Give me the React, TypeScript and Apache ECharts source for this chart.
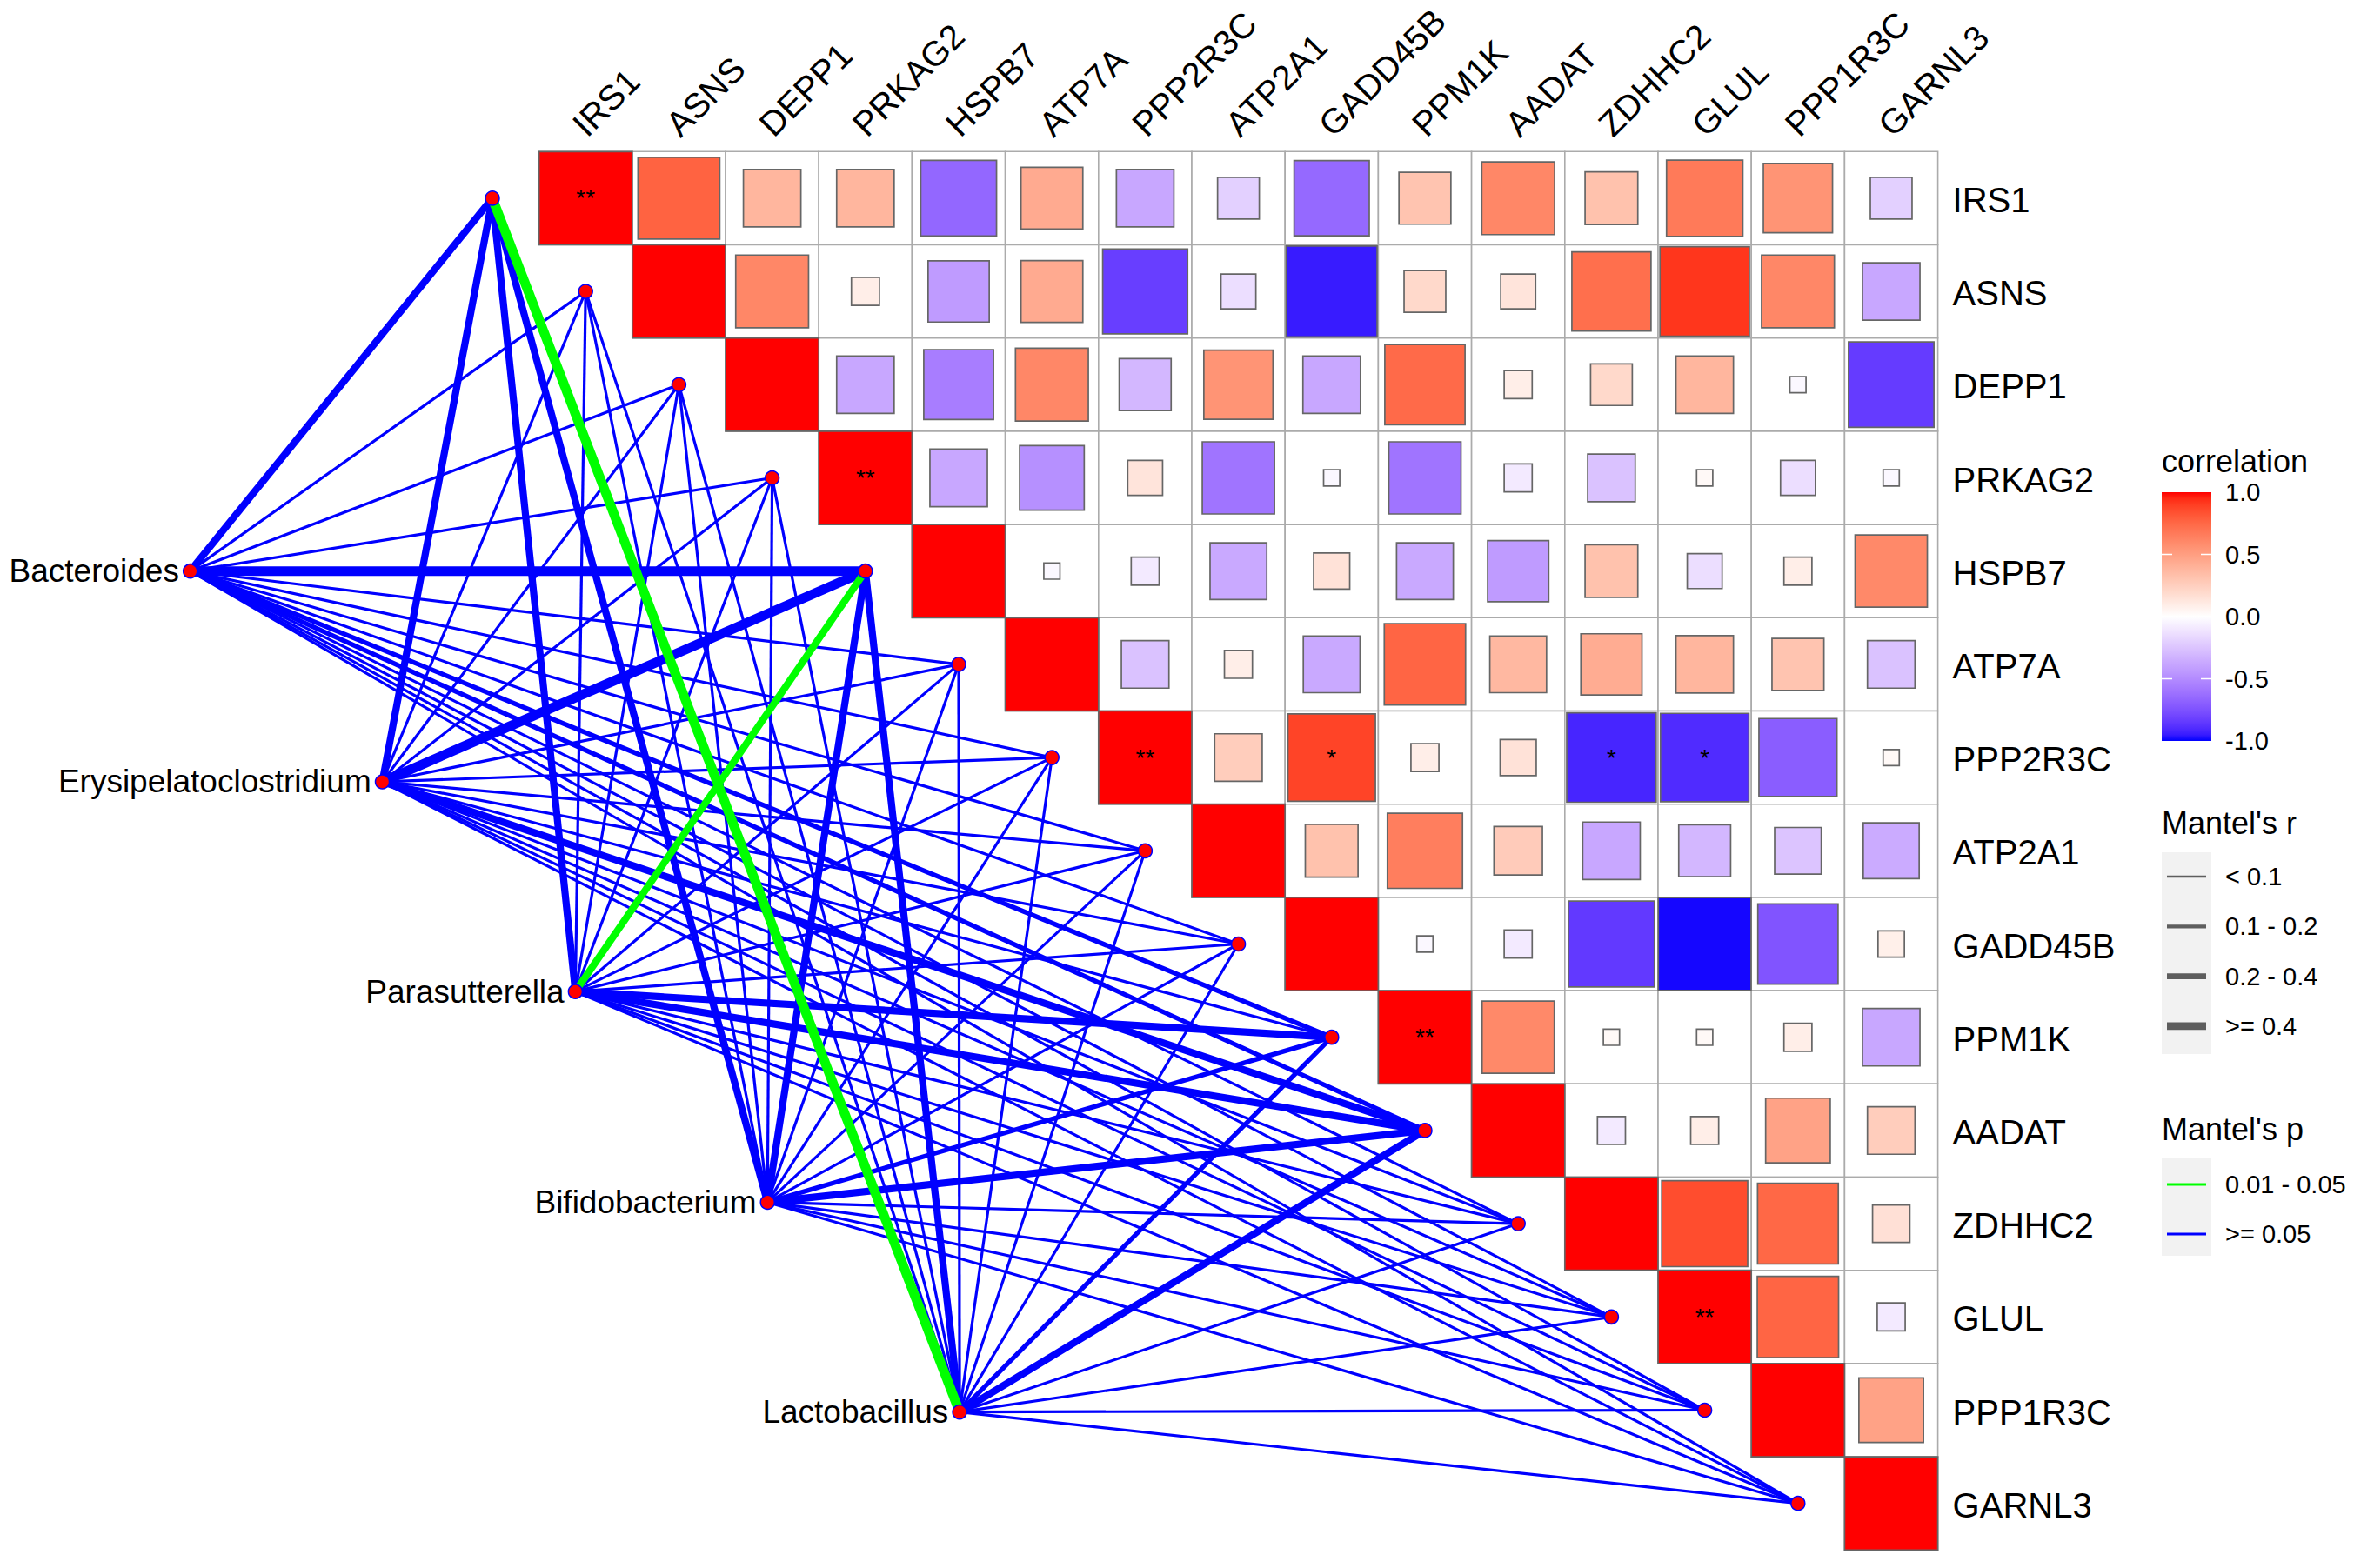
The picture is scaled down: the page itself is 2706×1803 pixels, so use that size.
import React, { useEffect, useRef } from "react";
import * as echarts from "echarts";

// ---------------- DATA ----------------
const genes = ["IRS1", "ASNS", "DEPP1", "PRKAG2", "HSPB7", "ATP7A", "PPP2R3C", "ATP2A1", "GADD45B", "PPM1K", "AADAT", "ZDHHC2", "GLUL", "PPP1R3C", "GARNL3"];

// Upper-triangle correlations: each row holds r with the genes that follow it
const rIRS1 = [0.77, 0.38, 0.38, -0.66, 0.44, -0.38, -0.2, -0.65, 0.31, 0.61, 0.32, 0.67, 0.55, -0.2];
const rASNS = [0.61, 0.09, -0.43, 0.44, -0.83, -0.14, -0.95, 0.2, 0.14, 0.72, 0.92, 0.61, -0.38];
const rDEPP1 = [-0.38, -0.56, 0.61, -0.31, 0.55, -0.38, 0.74, 0.09, 0.2, 0.38, -0.03, -0.84];
const rPRKAG2 = [-0.38, -0.48, 0.14, -0.6, -0.03, -0.6, -0.09, -0.26, 0.03, -0.14, -0.03];
const rHSPB7 = [-0.03, -0.09, -0.37, 0.15, -0.37, -0.43, 0.32, -0.14, 0.09, 0.6];
const rATP7A = [-0.26, 0.09, -0.37, 0.76, 0.37, 0.43, 0.38, 0.31, -0.26];
const rPPP2R3C = [0.26, 0.88, 0.09, 0.15, -0.92, -0.9, -0.7, 0.03];
const rATP2A1 = [0.32, 0.65, 0.27, -0.38, -0.31, -0.25, -0.36];
const rGADD45B = [-0.03, -0.09, -0.85, -0.99, -0.74, 0.08];
const rPPM1K = [0.6, 0.03, 0.03, 0.09, -0.38];
const rAADAT = [-0.09, 0.09, 0.48, 0.26];
const rZDHHC2 = [0.85, 0.75, 0.16];
const rGLUL = [0.76, -0.09];
const rPPP1R3C = [0.48];
const rGARNL3: number[] = [];
const corrRows = [rIRS1, rASNS, rDEPP1, rPRKAG2, rHSPB7, rATP7A, rPPP2R3C, rATP2A1, rGADD45B, rPPM1K, rAADAT, rZDHHC2, rGLUL, rPPP1R3C, rGARNL3];

// significance marks [row gene, column gene, mark]
const sigRows = ["IRS1", "PRKAG2", "PPP2R3C", "PPP2R3C", "PPP2R3C", "PPP2R3C", "PPM1K", "GLUL"];
const sigCols = ["IRS1", "PRKAG2", "PPP2R3C", "GADD45B", "ZDHHC2", "GLUL", "PPM1K", "GLUL"];
const sigMarks = ["**", "**", "**", "*", "*", "*", "**", "**"];

const taxa = ["Bacteroides", "Erysipelatoclostridium", "Parasutterella", "Bifidobacterium", "Lactobacillus"];

// Mantel's r class per gene (gene order as above)
const R1 = "< 0.1", R2 = "0.1 - 0.2", R3 = "0.2 - 0.4", R4 = ">= 0.4";
const mantelRClasses = [R1, R2, R3, R4];
const mantelR_Bacteroides = [R3, R1, R1, R1, R4, R1, R1, R1, R1, R2, R2, R1, R1, R1, R1];
const mantelR_Erysipelatoclostridium = [R3, R1, R1, R1, R4, R1, R1, R1, R1, R1, R3, R1, R1, R1, R1];
const mantelR_Parasutterella = [R3, R1, R1, R1, R3, R1, R1, R1, R1, R3, R3, R1, R1, R1, R1];
const mantelR_Bifidobacterium = [R3, R1, R1, R1, R3, R1, R1, R1, R1, R2, R3, R1, R1, R1, R1];
const mantelR_Lactobacillus = [R4, R1, R1, R1, R3, R1, R1, R1, R1, R2, R3, R1, R1, R1, R1];
const mantelR = [mantelR_Bacteroides, mantelR_Erysipelatoclostridium, mantelR_Parasutterella, mantelR_Bifidobacterium, mantelR_Lactobacillus];

// Mantel's p class per gene
const P1 = "0.01 - 0.05", P2 = ">= 0.05";
const mantelPClasses = [P1, P2];
const mantelP_Bacteroides = [P2, P2, P2, P2, P2, P2, P2, P2, P2, P2, P2, P2, P2, P2, P2];
const mantelP_Erysipelatoclostridium = [P2, P2, P2, P2, P2, P2, P2, P2, P2, P2, P2, P2, P2, P2, P2];
const mantelP_Parasutterella = [P2, P2, P2, P2, P1, P2, P2, P2, P2, P2, P2, P2, P2, P2, P2];
const mantelP_Bifidobacterium = [P2, P2, P2, P2, P2, P2, P2, P2, P2, P2, P2, P2, P2, P2, P2];
const mantelP_Lactobacillus = [P1, P2, P2, P2, P2, P2, P2, P2, P2, P2, P2, P2, P2, P2, P2];
const mantelP = [mantelP_Bacteroides, mantelP_Erysipelatoclostridium, mantelP_Parasutterella, mantelP_Bifidobacterium, mantelP_Lactobacillus];

const colorbarTicks = [1.0, 0.5, 0.0, -0.5, -1.0];

// ---------------- LAYOUT / STYLE ----------------
const CELL_LEFT = 619.6;
const CELL_TOP = 174.3;
const CELL = 107.2;
const X_MIN = -4;
const N = genes.length;
// taxon node layout in cell units (x from heatmap left edge, y from top)
const TAXA_X = [-3.74, -1.68, 0.39, 2.45, 4.51];
const TAXA_Y = [4.5, 6.76, 9.01, 11.27, 13.52];

const FONT = "'Liberation Sans', Arial, Helvetica, sans-serif";
const GENE_FONT = 40;
const R_WIDTH: Record<string, number> = { [R1]: 3.2, [R2]: 5.4, [R3]: 8.2, [R4]: 11 };
const P_COLOR: Record<string, string> = { [P1]: "#00FF00", [P2]: "#0000FF" };

// ---------- Lab colour interpolation (like ggplot's gradient2) ----------
function toLin(c: number) {
  c /= 255;
  return c <= 0.04045 ? c / 12.92 : Math.pow((c + 0.055) / 1.055, 2.4);
}
function fromLin(c: number) {
  const v = c <= 0.0031308 ? 12.92 * c : 1.055 * Math.pow(c, 1 / 2.4) - 0.055;
  return Math.max(0, Math.min(255, Math.round(v * 255)));
}
function rgbToLab(rgb: number[]) {
  const R = toLin(rgb[0]), G = toLin(rgb[1]), B = toLin(rgb[2]);
  const X = (0.4124564 * R + 0.3575761 * G + 0.1804375 * B) / 0.95047;
  const Y = 0.2126729 * R + 0.7151522 * G + 0.072175 * B;
  const Z = (0.0193339 * R + 0.119192 * G + 0.9503041 * B) / 1.08883;
  const f = (t: number) => (t > 0.008856 ? Math.cbrt(t) : 7.787 * t + 16 / 116);
  return [116 * f(Y) - 16, 500 * (f(X) - f(Y)), 200 * (f(Y) - f(Z))];
}
function labToRgb(lab: number[]) {
  const fy = (lab[0] + 16) / 116;
  const fx = fy + lab[1] / 500;
  const fz = fy - lab[2] / 200;
  const inv = (t: number) => (t * t * t > 0.008856 ? t * t * t : (t - 16 / 116) / 7.787);
  const X = inv(fx) * 0.95047, Y = inv(fy), Z = inv(fz) * 1.08883;
  const R = 3.2404542 * X - 1.5371385 * Y - 0.4985314 * Z;
  const G = -0.969266 * X + 1.8760108 * Y + 0.041556 * Z;
  const B = 0.0556434 * X - 0.2040259 * Y + 1.0572252 * Z;
  return [fromLin(R), fromLin(G), fromLin(B)];
}
const LAB_RED = rgbToLab([255, 0, 0]);
const LAB_WHITE = rgbToLab([255, 255, 255]);
const LAB_BLUE = rgbToLab([0, 0, 255]);
function corrColor(r: number) {
  const t = Math.min(1, Math.abs(r));
  const end = r >= 0 ? LAB_RED : LAB_BLUE;
  const lab = [0, 1, 2].map((k) => LAB_WHITE[k] + (end[k] - LAB_WHITE[k]) * t);
  const c = labToRgb(lab);
  return `rgb(${c[0]},${c[1]},${c[2]})`;
}

function buildOption() {
  // heatmap cells [col, row, r]
  const cells: number[][] = [];
  for (let i = 0; i < N; i++) {
    for (let j = i; j < N; j++) {
      const r = i === j ? 1 : corrRows[i][j - i - 1];
      cells.push([j, i, r]);
    }
  }
  const stars = sigMarks.map((m, k) => [genes.indexOf(sigCols[k]), genes.indexOf(sigRows[k])]);

  // links
  type L = { t: number; g: number; r: string; p: string };
  const links: L[] = [];
  taxa.forEach((_, t) => genes.forEach((__, g) => links.push({ t, g, r: mantelR[t][g], p: mantelP[t][g] })));
  links.sort((a, b) => (a.p === P1 ? 1 : 0) - (b.p === P1 ? 1 : 0));
  const linkData = links.map((l) => [TAXA_X[l.t], TAXA_Y[l.t], l.g - 0.5, l.g + 0.5]);

  const geneNodes = genes.map((_, g) => [g - 0.5, g + 0.5]);
  const taxaNodes = taxa.map((name, t) => ({ name, value: [TAXA_X[t], TAXA_Y[t]] }));

  // legend graphics
  const LX = 2485;
  const barTop = 566, barH = 286, barW = 57;
  const stops = [] as { offset: number; color: string }[];
  for (let k = 0; k <= 40; k++) stops.push({ offset: k / 40, color: corrColor(1 - k / 20) });
  const graphic: any[] = [
    { type: "text", x: LX, y: 530, style: { text: "correlation", fontSize: 36, fontFamily: FONT, fill: "#000", verticalAlign: "middle" } },
    {
      type: "rect",
      shape: { x: LX, y: barTop, width: barW, height: barH },
      style: { fill: { type: "linear", x: 0, y: 0, x2: 0, y2: 1, colorStops: stops } },
    },
  ];
  colorbarTicks.forEach((v) => {
    const y = barTop + ((1 - v) / 2) * barH;
    graphic.push({ type: "text", x: LX + 73, y, style: { text: v.toFixed(1), fontSize: 29, fontFamily: FONT, fill: "#000", verticalAlign: "middle" } });
    if (Math.abs(v) < 1) {
      graphic.push({ type: "line", shape: { x1: LX, y1: y, x2: LX + 12, y2: y }, style: { stroke: "#fff", lineWidth: 1.5 } });
      graphic.push({ type: "line", shape: { x1: LX + barW - 12, y1: y, x2: LX + barW, y2: y }, style: { stroke: "#fff", lineWidth: 1.5 } });
    }
  });
  graphic.push({ type: "text", x: LX, y: 946, style: { text: "Mantel's r", fontSize: 36, fontFamily: FONT, fill: "#000", verticalAlign: "middle" } });
  graphic.push({ type: "rect", shape: { x: LX, y: 980, width: barW, height: 232 }, style: { fill: "#F2F2F2" } });
  mantelRClasses.forEach((c, k) => {
    const y = 1008 + k * 57.3;
    graphic.push({ type: "line", shape: { x1: LX + 6, y1: y, x2: LX + barW - 6, y2: y }, style: { stroke: "#5E5E5E", lineWidth: R_WIDTH[c] * 0.8 } });
    graphic.push({ type: "text", x: LX + 73, y, style: { text: c, fontSize: 29, fontFamily: FONT, fill: "#000", verticalAlign: "middle" } });
  });
  graphic.push({ type: "text", x: LX, y: 1298, style: { text: "Mantel's p", fontSize: 36, fontFamily: FONT, fill: "#000", verticalAlign: "middle" } });
  graphic.push({ type: "rect", shape: { x: LX, y: 1332, width: barW, height: 112 }, style: { fill: "#F2F2F2" } });
  mantelPClasses.forEach((c, k) => {
    const y = 1362 + k * 57;
    graphic.push({ type: "line", shape: { x1: LX + 6, y1: y, x2: LX + barW - 6, y2: y }, style: { stroke: P_COLOR[c], lineWidth: 3.2 } });
    graphic.push({ type: "text", x: LX + 73, y, style: { text: c, fontSize: 29, fontFamily: FONT, fill: "#000", verticalAlign: "middle" } });
  });

  return {
    animation: false,
    backgroundColor: "#ffffff",
    grid: { left: CELL_LEFT + X_MIN * CELL, top: CELL_TOP, width: (N - X_MIN) * CELL, height: N * CELL },
    xAxis: { type: "value", min: X_MIN, max: N, show: false },
    yAxis: { type: "value", min: 0, max: N, inverse: true, show: false },
    graphic,
    series: [
      {
        type: "custom",
        name: "links",
        z: 1,
        clip: false,
        data: linkData,
        renderItem: (params: any, api: any) => {
          const a = api.coord([api.value(0), api.value(1)]);
          const b = api.coord([api.value(2), api.value(3)]);
          const l = links[params.dataIndex];
          return {
            type: "line",
            shape: { x1: a[0], y1: a[1], x2: b[0], y2: b[1] },
            style: { stroke: P_COLOR[l.p], lineWidth: R_WIDTH[l.r], lineCap: "butt" },
          };
        },
      },
      {
        type: "custom",
        name: "cells",
        z: 2,
        clip: false,
        data: cells,
        renderItem: (params: any, api: any) => {
          const tl = api.coord([api.value(0), api.value(1)]);
          const sz = api.size([1, 1]);
          return {
            type: "rect",
            shape: { x: tl[0], y: tl[1], width: sz[0], height: sz[1] },
            style: { fill: "#ffffff", stroke: "#ABABAB", lineWidth: 1.6 },
          };
        },
      },
      {
        type: "custom",
        name: "squares",
        z: 3,
        clip: false,
        data: cells,
        renderItem: (params: any, api: any) => {
          const tl = api.coord([api.value(0), api.value(1)]);
          const sz = api.size([1, 1]);
          const r = api.value(2);
          const s = Math.sqrt(Math.abs(r));
          const w = sz[0] * s, h = sz[1] * s;
          return {
            type: "rect",
            shape: { x: tl[0] + (sz[0] - w) / 2, y: tl[1] + (sz[1] - h) / 2, width: w, height: h },
            style: { fill: corrColor(r), stroke: "#666666", lineWidth: 1.7 },
          };
        },
      },
      {
        type: "custom",
        name: "stars",
        z: 4,
        clip: false,
        data: stars,
        renderItem: (params: any, api: any) => {
          const c = api.coord([api.value(0) + 0.5, api.value(1) + 0.5]);
          return {
            type: "text",
            x: c[0],
            y: c[1],
            style: { text: sigMarks[params.dataIndex], fontSize: 28, fontFamily: FONT, fill: "#000", align: "center", verticalAlign: "middle" },
          };
        },
      },
      {
        type: "custom",
        name: "colLabels",
        z: 4,
        clip: false,
        data: genes.map((_, g) => [g + 0.5, 0]),
        renderItem: (params: any, api: any) => {
          const c = api.coord([api.value(0), api.value(1)]);
          return {
            type: "text",
            x: c[0] - 8,
            y: c[1] - 25,
            rotation: Math.PI / 4,
            style: { text: genes[params.dataIndex], fontSize: GENE_FONT, fontFamily: FONT, fill: "#000", align: "left", verticalAlign: "middle" },
          };
        },
      },
      {
        type: "custom",
        name: "rowLabels",
        z: 4,
        clip: false,
        data: genes.map((_, g) => [N, g + 0.5]),
        renderItem: (params: any, api: any) => {
          const c = api.coord([api.value(0), api.value(1)]);
          return {
            type: "text",
            x: c[0] + 17,
            y: c[1] + 2,
            style: { text: genes[params.dataIndex], fontSize: GENE_FONT, fontFamily: FONT, fill: "#000", align: "left", verticalAlign: "middle" },
          };
        },
      },
      {
        type: "scatter",
        name: "geneNodes",
        z: 5,
        clip: false,
        data: geneNodes,
        symbol: "circle",
        symbolSize: 16,
        itemStyle: { color: "#FF0000", borderColor: "#0000FF", borderWidth: 1.5, opacity: 1 },
        emphasis: { disabled: true },
      },
      {
        type: "scatter",
        name: "taxaNodes",
        z: 5,
        clip: false,
        data: taxaNodes,
        symbol: "circle",
        symbolSize: 16,
        itemStyle: { color: "#FF0000", borderColor: "#0000FF", borderWidth: 1.5, opacity: 1 },
        label: {
          show: true,
          position: "left",
          distance: 4,
          formatter: "{b}",
          fontSize: 37,
          fontFamily: FONT,
          color: "#000",
        },
        emphasis: { disabled: true },
      },
    ],
  };
}

export default function App() {
  const ref = useRef<HTMLDivElement>(null);
  useEffect(() => {
    const chart = echarts.init(ref.current!, null, { renderer: "svg" });
    chart.setOption(buildOption() as any);
    return () => chart.dispose();
  }, []);
  return (
    <div
      ref={ref}
      style={{ position: "fixed", left: 0, top: 0, width: 2706, height: 1803, background: "#ffffff" }}
    />
  );
}
